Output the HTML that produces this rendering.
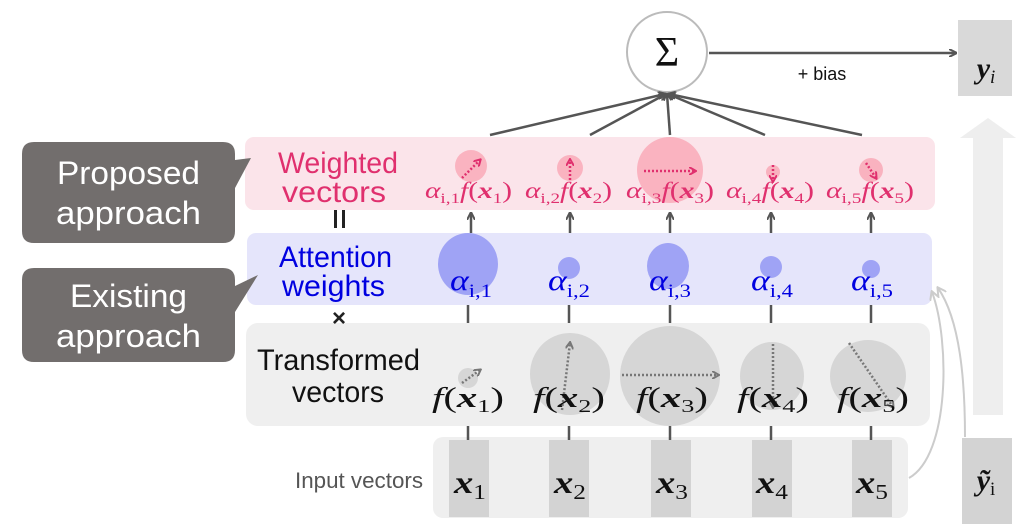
<!DOCTYPE html>
<html><head><meta charset="utf-8"><style>
html,body{margin:0;padding:0;background:#fff;}
svg{display:block;}
.m{font-family:"Liberation Serif","DejaVu Serif",serif;font-style:italic;}
.s{font-family:"Liberation Sans",sans-serif;}
.u{font-style:normal;}
</style></head><body>
<svg width="1018" height="531" viewBox="0 0 1018 531" xmlns="http://www.w3.org/2000/svg">
<defs>
<marker id="ah" markerWidth="8" markerHeight="8" refX="7" refY="4" orient="auto" markerUnits="userSpaceOnUse"><path d="M0,0 L8,4 L0,8" fill="none" stroke="#555" stroke-width="2"/></marker>
<marker id="ahg" markerWidth="10" markerHeight="10" refX="8" refY="5" orient="auto" markerUnits="userSpaceOnUse"><path d="M0,0 L9,5 L0,10" fill="none" stroke="#ccc" stroke-width="2"/></marker>
<marker id="dp" markerWidth="8" markerHeight="8" refX="6" refY="4" orient="auto" markerUnits="userSpaceOnUse"><path d="M0,0 L7,4 L0,8" fill="none" stroke="#e0306e" stroke-width="2"/></marker>
<marker id="dg" markerWidth="8" markerHeight="8" refX="6" refY="4" orient="auto" markerUnits="userSpaceOnUse"><path d="M0,0 L7,4 L0,8" fill="none" stroke="#777" stroke-width="2"/></marker>
</defs>
<path d="M973,415 L973,138 L960,138 L988,118 L1016,138 L1003,138 L1003,415 Z" fill="#eeeeee"/>
<rect x="245" y="137" width="690" height="73" rx="9" fill="#fbe4ea"/>
<rect x="247" y="233" width="685" height="72" rx="9" fill="#e5e5fb"/>
<rect x="246" y="323" width="684" height="103" rx="12" fill="#efefef"/>
<rect x="433" y="437" width="475" height="81" rx="10" fill="#efefef"/>
<path d="M34,142 H223 Q235,142 235,154 V160 L251,158 L235,188 V231 Q235,243 223,243 H34 Q22,243 22,231 V154 Q22,142 34,142 Z" fill="#726e6d"/>
<text x="57" y="184" class="s" font-size="32" fill="#fff" textLength="143" lengthAdjust="spacingAndGlyphs">Proposed</text>
<text x="56" y="224" class="s" font-size="32" fill="#fff" textLength="145" lengthAdjust="spacingAndGlyphs">approach</text>
<path d="M34,268 H223 Q235,268 235,280 V286 L258,275 L235,312 V350 Q235,362 223,362 H34 Q22,362 22,350 V280 Q22,268 34,268 Z" fill="#726e6d"/>
<text x="70" y="307" class="s" font-size="32" fill="#fff" textLength="117" lengthAdjust="spacingAndGlyphs">Existing</text>
<text x="56" y="347" class="s" font-size="32" fill="#fff" textLength="145" lengthAdjust="spacingAndGlyphs">approach</text>
<text x="278" y="173" class="s" font-size="30" fill="#e0306e" textLength="120" lengthAdjust="spacingAndGlyphs">Weighted</text>
<text x="282" y="202" class="s" font-size="30" fill="#e0306e" textLength="104" lengthAdjust="spacingAndGlyphs">vectors</text>
<text x="279" y="267" class="s" font-size="30" fill="#0000e0" textLength="113" lengthAdjust="spacingAndGlyphs">Attention</text>
<text x="282" y="296" class="s" font-size="30" fill="#0000e0" textLength="103" lengthAdjust="spacingAndGlyphs">weights</text>
<text x="257" y="370" class="s" font-size="30" fill="#111" textLength="163" lengthAdjust="spacingAndGlyphs">Transformed</text>
<text x="292" y="402" class="s" font-size="30" fill="#111" textLength="92" lengthAdjust="spacingAndGlyphs">vectors</text>
<text x="295" y="488" class="s" font-size="22" fill="#555" textLength="128" lengthAdjust="spacingAndGlyphs">Input vectors</text>
<rect x="334" y="210" width="3" height="18" fill="#222"/><rect x="342" y="210" width="3" height="18" fill="#222"/>
<text x="339" y="326" class="s" font-size="24" font-weight="bold" fill="#222" text-anchor="middle">×</text>
<circle cx="667" cy="52" r="40" fill="#fff" stroke="#bbb" stroke-width="2"/>
<text x="667" y="66" font-family="Liberation Serif,serif" font-size="42" fill="#111" text-anchor="middle">Σ</text>
<line x1="709" y1="53" x2="956" y2="53" stroke="#555" stroke-width="2.5" marker-end="url(#ah)"/>
<text x="822" y="80" class="s" font-size="18" fill="#111" text-anchor="middle">+ bias</text>
<rect x="958" y="20" width="54" height="76" fill="#d9d9d9"/>
<text x="986" y="78" class="m" font-weight="bold" font-size="30" fill="#111" text-anchor="middle">y<tspan font-size="19" font-weight="normal" dy="5">i</tspan></text>
<g stroke="#555" stroke-width="2.5" marker-end="url(#ah)">
<line x1="490" y1="135" x2="665" y2="94"/>
<line x1="590" y1="135" x2="666" y2="94"/>
<line x1="670" y1="135" x2="667" y2="94"/>
<line x1="765" y1="135" x2="668" y2="94"/>
<line x1="862" y1="135" x2="669" y2="94"/>
</g>
<g fill="#f9aab8" opacity="0.85">
<circle cx="471" cy="166" r="16"/><circle cx="570" cy="168" r="13"/><circle cx="670" cy="170" r="33"/><circle cx="773" cy="172" r="7"/><circle cx="871" cy="170" r="12"/>
</g>
<g stroke="#e0306e" stroke-width="2.5" stroke-dasharray="2,2" fill="none" marker-end="url(#dp)">
<line x1="462" y1="178" x2="480" y2="160"/>
<line x1="570" y1="180" x2="570" y2="160"/>
<line x1="644" y1="171" x2="695" y2="171"/>
<line x1="773" y1="165" x2="773" y2="181"/>
<line x1="866" y1="163" x2="876" y2="178"/>
</g>
<g class="m" font-size="23" fill="#e0306e">
<text x="425" y="198" textLength="87" lengthAdjust="spacingAndGlyphs">α<tspan class="u" font-size="15" dy="5">i,1</tspan><tspan dy="-5">f</tspan><tspan class="u">(</tspan><tspan font-weight="bold">x</tspan><tspan class="u" font-size="15" dy="5">1</tspan><tspan class="u" dy="-5">)</tspan></text>
<text x="525" y="198" textLength="87" lengthAdjust="spacingAndGlyphs">α<tspan class="u" font-size="15" dy="5">i,2</tspan><tspan dy="-5">f</tspan><tspan class="u">(</tspan><tspan font-weight="bold">x</tspan><tspan class="u" font-size="15" dy="5">2</tspan><tspan class="u" dy="-5">)</tspan></text>
<text x="626" y="198" textLength="88" lengthAdjust="spacingAndGlyphs">α<tspan class="u" font-size="15" dy="5">i,3</tspan><tspan dy="-5">f</tspan><tspan class="u">(</tspan><tspan font-weight="bold">x</tspan><tspan class="u" font-size="15" dy="5">3</tspan><tspan class="u" dy="-5">)</tspan></text>
<text x="726" y="198" textLength="88" lengthAdjust="spacingAndGlyphs">α<tspan class="u" font-size="15" dy="5">i,4</tspan><tspan dy="-5">f</tspan><tspan class="u">(</tspan><tspan font-weight="bold">x</tspan><tspan class="u" font-size="15" dy="5">4</tspan><tspan class="u" dy="-5">)</tspan></text>
<text x="826" y="198" textLength="88" lengthAdjust="spacingAndGlyphs">α<tspan class="u" font-size="15" dy="5">i,5</tspan><tspan dy="-5">f</tspan><tspan class="u">(</tspan><tspan font-weight="bold">x</tspan><tspan class="u" font-size="15" dy="5">5</tspan><tspan class="u" dy="-5">)</tspan></text>
</g>
<g stroke="#555" stroke-width="2.5" marker-end="url(#ah)">
<line x1="471" y1="233" x2="471" y2="213"/><line x1="570" y1="233" x2="570" y2="213"/><line x1="670" y1="233" x2="670" y2="213"/><line x1="771" y1="233" x2="771" y2="213"/><line x1="871" y1="233" x2="871" y2="213"/>
</g>
<g fill="#9fa3f5">
<ellipse cx="468" cy="264" rx="30" ry="31"/><circle cx="569" cy="268" r="11"/><ellipse cx="668" cy="266" rx="21" ry="23"/><circle cx="771" cy="267" r="11"/><circle cx="871" cy="269" r="9"/>
</g>
<g class="m" font-size="30" fill="#0000e0">
<text x="450" y="290" textLength="42" lengthAdjust="spacingAndGlyphs">α<tspan class="u" font-size="19" dy="7">i,1</tspan></text>
<text x="548" y="290" textLength="42" lengthAdjust="spacingAndGlyphs">α<tspan class="u" font-size="19" dy="7">i,2</tspan></text>
<text x="649" y="290" textLength="42" lengthAdjust="spacingAndGlyphs">α<tspan class="u" font-size="19" dy="7">i,3</tspan></text>
<text x="751" y="290" textLength="42" lengthAdjust="spacingAndGlyphs">α<tspan class="u" font-size="19" dy="7">i,4</tspan></text>
<text x="851" y="290" textLength="42" lengthAdjust="spacingAndGlyphs">α<tspan class="u" font-size="19" dy="7">i,5</tspan></text>
</g>
<g stroke="#555" stroke-width="2.5">
<line x1="468" y1="305" x2="468" y2="323"/><line x1="569" y1="305" x2="569" y2="323"/><line x1="670" y1="305" x2="670" y2="323"/><line x1="771" y1="305" x2="771" y2="323"/><line x1="871" y1="305" x2="871" y2="323"/>
<line x1="468" y1="426" x2="468" y2="440"/><line x1="569" y1="426" x2="569" y2="440"/><line x1="670" y1="426" x2="670" y2="440"/><line x1="771" y1="426" x2="771" y2="440"/><line x1="871" y1="426" x2="871" y2="440"/>
</g>
<g fill="#d6d6d6">
<circle cx="468" cy="378" r="10"/><ellipse cx="570" cy="374" rx="40" ry="41"/><circle cx="670" cy="376" r="50"/><ellipse cx="772" cy="376" rx="32" ry="34"/><ellipse cx="868" cy="376" rx="38" ry="36"/>
</g>
<g stroke="#777" stroke-width="2.5" stroke-dasharray="2,2" fill="none" marker-end="url(#dg)">
<line x1="462" y1="383" x2="480" y2="370"/>
<line x1="562" y1="410" x2="570" y2="343"/>
<line x1="622" y1="375" x2="718" y2="375"/>
<line x1="773" y1="344" x2="773" y2="407"/>
<line x1="849" y1="343" x2="893" y2="407"/>
</g>
<g class="m" font-size="28" fill="#111">
<text x="432" y="407" textLength="72" lengthAdjust="spacingAndGlyphs">f<tspan class="u">(</tspan><tspan font-weight="bold">x</tspan><tspan class="u" font-size="18" dy="5">1</tspan><tspan class="u" dy="-5">)</tspan></text>
<text x="533" y="407" textLength="72" lengthAdjust="spacingAndGlyphs">f<tspan class="u">(</tspan><tspan font-weight="bold">x</tspan><tspan class="u" font-size="18" dy="5">2</tspan><tspan class="u" dy="-5">)</tspan></text>
<text x="636" y="407" textLength="72" lengthAdjust="spacingAndGlyphs">f<tspan class="u">(</tspan><tspan font-weight="bold">x</tspan><tspan class="u" font-size="18" dy="5">3</tspan><tspan class="u" dy="-5">)</tspan></text>
<text x="737" y="407" textLength="72" lengthAdjust="spacingAndGlyphs">f<tspan class="u">(</tspan><tspan font-weight="bold">x</tspan><tspan class="u" font-size="18" dy="5">4</tspan><tspan class="u" dy="-5">)</tspan></text>
<text x="837" y="407" textLength="72" lengthAdjust="spacingAndGlyphs">f<tspan class="u">(</tspan><tspan font-weight="bold">x</tspan><tspan class="u" font-size="18" dy="5">5</tspan><tspan class="u" dy="-5">)</tspan></text>
</g>
<g fill="#d3d3d3">
<rect x="449" y="440" width="40" height="77"/><rect x="549" y="440" width="40" height="77"/><rect x="651" y="440" width="40" height="77"/><rect x="752" y="440" width="40" height="77"/><rect x="852" y="440" width="40" height="77"/>
</g>
<g class="m" font-size="32" fill="#111">
<text x="454" y="493" textLength="32" lengthAdjust="spacingAndGlyphs"><tspan font-weight="bold">x</tspan><tspan class="u" font-size="21" dy="6">1</tspan></text>
<text x="554" y="493" textLength="32" lengthAdjust="spacingAndGlyphs"><tspan font-weight="bold">x</tspan><tspan class="u" font-size="21" dy="6">2</tspan></text>
<text x="656" y="493" textLength="32" lengthAdjust="spacingAndGlyphs"><tspan font-weight="bold">x</tspan><tspan class="u" font-size="21" dy="6">3</tspan></text>
<text x="756" y="493" textLength="32" lengthAdjust="spacingAndGlyphs"><tspan font-weight="bold">x</tspan><tspan class="u" font-size="21" dy="6">4</tspan></text>
<text x="856" y="493" textLength="32" lengthAdjust="spacingAndGlyphs"><tspan font-weight="bold">x</tspan><tspan class="u" font-size="21" dy="6">5</tspan></text>
</g>
<rect x="962" y="438" width="50" height="86" fill="#d3d3d3"/>
<text x="986" y="490" class="m" font-weight="bold" font-size="30" fill="#111" text-anchor="middle">ỹ<tspan class="u" font-size="19" font-weight="normal" dy="5">i</tspan></text>
<path d="M909,478 C950,455 950,340 932,292" fill="none" stroke="#ccc" stroke-width="2" marker-end="url(#ahg)"/>
<path d="M965,437 C965,380 960,320 938,288" fill="none" stroke="#ccc" stroke-width="2" marker-end="url(#ahg)"/>
</svg>
</body></html>
